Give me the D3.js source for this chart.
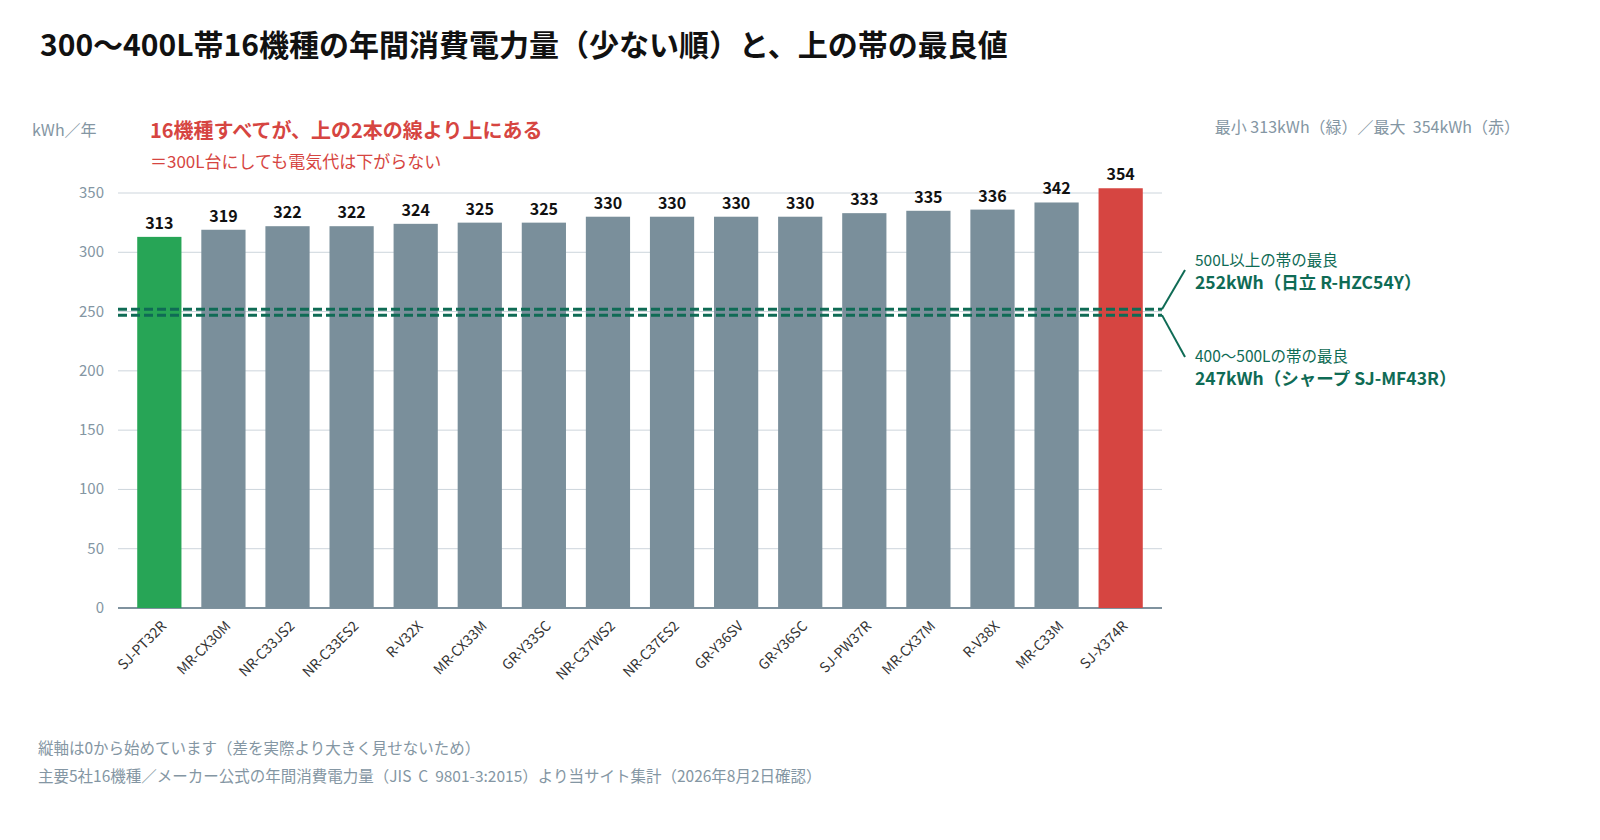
<!DOCTYPE html><html><head><meta charset="utf-8"><script src="https://cdn.jsdelivr.net/npm/d3@7"></script>
<style>body{margin:0;background:#fff;font-family:"Noto Sans CJK JP","Noto Sans",sans-serif}</style></head><body><svg id="c" width="1600" height="840"></svg>
<script>
const models=["SJ-PT32R","MR-CX30M","NR-C33JS2","NR-C33ES2","R-V32X","MR-CX33M","GR-Y33SC","NR-C37WS2","NR-C37ES2","GR-Y36SV","GR-Y36SC","SJ-PW37R","MR-CX37M","R-V38X","MR-C33M","SJ-X374R"];
const values=[313,319,322,322,324,325,325,330,330,330,330,333,335,336,342,354];
const yTicks=[0,50,100,150,200,250,300,350];
const refLines=[252,247];
const svg=d3.select("#c");
const x=d3.scaleBand().domain(models).range([118,1162]).paddingInner(0.31).paddingOuter(0.3);
const y=d3.scaleLinear().domain([0,350]).range([608,193]);
svg.append("text").attr("x",40).attr("y",56).attr("font-size",30).attr("font-weight",700).attr("fill","#111").text("300〜400L帯16機種の年間消費電力量（少ない順）と、上の帯の最良値");
svg.append("g").selectAll("line").data(yTicks).join("line").attr("x1",118).attr("x2",1162).attr("y1",d=>y(d)).attr("y2",d=>y(d)).attr("stroke",d=>d?"#cdd5dc":"#7f929e").attr("stroke-width",d=>d?1:2);
svg.append("g").selectAll("text").data(yTicks).join("text").attr("x",104).attr("y",d=>y(d)+5).attr("text-anchor","end").attr("font-size",15).attr("fill","#8496a3").text(d=>d);
svg.append("text").attr("x",32).attr("y",136).attr("font-size",16).attr("fill","#8496a3").text("kWh／年");
const col=(d,i)=>i===0?"#27a556":i===values.length-1?"#d64541":"#7a8f9b";
svg.append("g").selectAll("rect").data(values).join("rect").attr("x",(d,i)=>x(models[i])).attr("width",x.bandwidth()).attr("y",d=>y(d)).attr("height",d=>y(0)-y(d)).attr("fill",col);
svg.append("g").selectAll("text").data(values).join("text").attr("x",(d,i)=>x(models[i])+x.bandwidth()/2).attr("y",d=>y(d)-8).attr("text-anchor","middle").attr("font-size",16).attr("font-weight",700).attr("fill","#111").text(d=>d);
svg.append("g").selectAll("text").data(models).join("text").attr("transform",d=>`translate(${x(d)+x.bandwidth()/2+8},${627}) rotate(-45)`).attr("text-anchor","end").attr("font-size",14).attr("fill","#333").text(d=>d);
refLines.forEach(v=>{svg.append("line").attr("x1",118).attr("x2",1162).attr("y1",y(v)).attr("y2",y(v)).attr("stroke","#0f6b55").attr("stroke-width",3).attr("stroke-dasharray","9,4");});
svg.append("line").attr("x1",1162).attr("y1",y(252)).attr("x2",1185).attr("y2",270).attr("stroke","#0f6b55").attr("stroke-width",2);
svg.append("line").attr("x1",1162).attr("y1",y(247)).attr("x2",1185).attr("y2",357).attr("stroke","#0f6b55").attr("stroke-width",2);
const ann=[[266,"500L以上の帯の最良",400,15.5],[289,"252kWh（日立 R-HZC54Y）",700,17.5],[362,"400〜500Lの帯の最良",400,15.5],[385,"247kWh（シャープ SJ-MF43R）",700,17.5]];
ann.forEach(a=>svg.append("text").attr("x",1195).attr("y",a[0]).attr("font-size",a[3]).attr("font-weight",a[2]).attr("fill","#0f6b55").text(a[1]));
svg.append("text").attr("x",150).attr("y",138).attr("font-size",20).attr("font-weight",700).attr("fill","#d64541").text("16機種すべてが、上の2本の線より上にある");
svg.append("text").attr("x",150).attr("y",168).attr("font-size",17).attr("fill","#d64541").text("＝300L台にしても電気代は下がらない");
svg.append("text").attr("x",1520).attr("y",133).attr("text-anchor","end").attr("font-size",16).attr("fill","#8496a3").attr("xml:space","preserve").text("最小 313kWh（緑）／最大  354kWh（赤）");
svg.append("text").attr("x",38).attr("y",754).attr("font-size",15.5).attr("fill","#8496a3").text("縦軸は0から始めています（差を実際より大きく見せないため）");
svg.append("text").attr("x",38).attr("y",782).attr("font-size",15.5).attr("fill","#8496a3").attr("xml:space","preserve").text("主要5社16機種／メーカー公式の年間消費電力量（JIS  C  9801-3:2015）より当サイト集計（2026年8月2日確認）");
</script></body></html>
